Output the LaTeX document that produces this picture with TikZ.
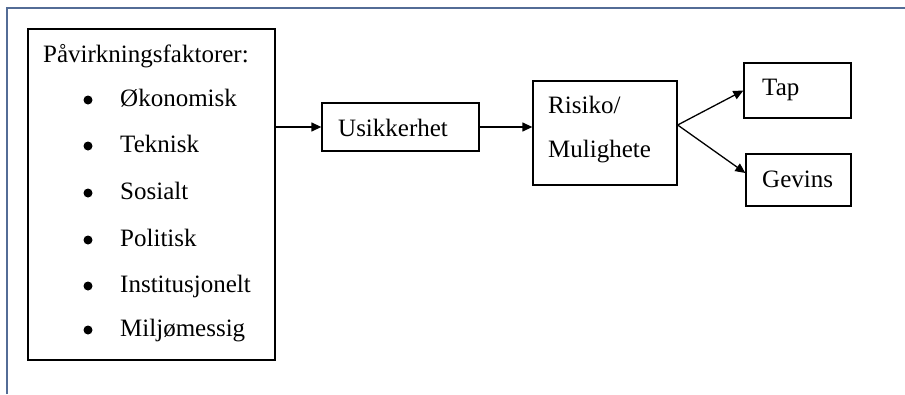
\documentclass[tikz,border=0pt]{standalone}
\usepackage{fontspec}
\setmainfont{LiberationSerif}[Extension=.ttf, UprightFont=*-Regular, BoldFont=*-Bold]
\usetikzlibrary{arrows.meta}
\definecolor{framecol}{HTML}{536C96}
\tikzset{
  box/.style={draw=black, line width=1.3pt, rectangle, inner sep=0pt},
  lbl/.style={anchor=base west, inner sep=0pt, font=\rmfamily\fontsize{25}{30}\selectfont},
  bul/.style={circle, fill=black, inner sep=0pt, minimum size=9pt},
  arr/.style={line width=1.3pt, -{Triangle[length=10pt,width=9pt]}}
}
\begin{document}
\begin{tikzpicture}[x=1pt,y=-1pt]
  \useasboundingbox (0,0) rectangle (905,394);
  % page frame (top and left edges only)
  \draw[framecol, line width=1.5pt] (7,394) -- (7,8) -- (905,8);

  % boxes
  \node[box, minimum width=247pt, minimum height=331pt] (fac) at (151.5,194.5) {};
  \node[box, minimum width=157pt, minimum height=48pt] (usik) at (400.5,127) {};
  \node[box, minimum width=144pt, minimum height=104pt] (risk) at (605,133) {};
  \node[box, minimum width=107pt, minimum height=55pt] (tap) at (797.5,90.5) {};
  \node[box, minimum width=105pt, minimum height=52pt] (gev) at (798.5,180) {};

  % factor list with bullet markers
  \node[lbl] (hdr) at (43,62) {Påvirkningsfaktorer:};
  \foreach \y/\t [count=\i] in {106/Økonomisk, 152/Teknisk, 199/Sosialt,
                               246/Politisk, 292/Institusjonelt, 336/Miljømessig} {
    \node[bul] (b\i) at (88,\y-6) {};
    \node[lbl] (f\i) at (120,\y) {\t};
  }

  % other labels
  \node[lbl] (tu) at (338,136) {Usikkerhet};
  \node[lbl] (tr1) at (548,113) {Risiko/};
  \node[lbl] (tr2) at (548,157) {Mulighete};
  \node[lbl] (tt) at (762,95) {Tap};
  \node[lbl] (tg) at (762,187) {Gevins};

  % connectors
  \coordinate (rsplit) at ([yshift=8pt]risk.east);
  \draw[arr] (fac.east |- usik.west) -- (usik.west);
  \draw[arr] (usik.east) -- (risk.west |- usik.east);
  \draw[arr] (rsplit) -- (tap.west);
  \draw[arr] (rsplit) -- ([yshift=7pt]gev.west);
\end{tikzpicture}
\end{document}
